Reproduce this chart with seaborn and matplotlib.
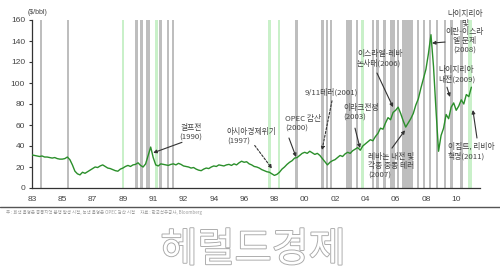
import numpy as np
import pandas as pd
import matplotlib
matplotlib.use("Agg")
import matplotlib.pyplot as plt
import matplotlib.patheffects as pe
from matplotlib.lines import Line2D
import seaborn as sns

# ---------------- data ----------------
start_year = 1983
points_per_year = 6
price = [
    31.5, 31, 30.5, 30, 30.5, 29.5,      # 1983
    29.5, 29, 28.5, 29, 28, 27.5,        # 1984
    27.5, 28, 29.5, 27, 22, 16,          # 1985
    13.5, 12.5, 15, 14, 15.5, 17,        # 1986
    18.5, 20, 19.5, 21, 22, 20.5,        # 1987
    19, 18.5, 17.5, 16.5, 16, 18,        # 1988
    19, 20.5, 21.5, 20.5, 22, 22.5,      # 1989
    24, 21.5, 20, 23, 31, 39,            # 1990
    29, 22, 21, 23, 22.5, 22,            # 1991
    21.5, 22.5, 23, 22, 23.5, 22.5,      # 1992
    21, 20.5, 20, 19, 19.5, 18,          # 1993
    17, 16.5, 18, 19, 18.5, 20,          # 1994
    21, 20.5, 22, 21.5, 21, 22,          # 1995
    22.5, 21.5, 23, 22, 24, 25.5,        # 1996
    24.5, 25, 23, 22, 20.5, 20,          # 1997
    19, 17.5, 16.5, 15.5, 15, 13.5,      # 1998
    12, 13, 15, 18, 20, 22.5,            # 1999
    24.5, 26, 28.5, 29, 31, 33,          # 2000
    34, 33, 35, 33.5, 32, 33,            # 2001
    31, 28, 25, 22, 24.5, 26,            # 2002
    27, 29, 31, 30, 32.5, 34,            # 2003
    33, 35.5, 37, 38.5, 36, 40,          # 2004
    42, 44, 46, 45, 49, 52,              # 2005
    57, 56, 62, 67, 65, 72,              # 2006
    74, 77, 71, 64, 58, 62,              # 2007
    66, 71, 79, 85, 95, 104,             # 2008
    113, 128, 146, 116, 74, 35,          # 2009
    50, 57, 70, 66, 77, 81,              # 2010
    74, 78, 84, 80, 89, 87,              # 2011
    96,                                  # 2012
]

tick_pos = [1983, 1985, 1987, 1989, 1991, 1993, 1995, 1997, 1999, 2001,
            2003, 2005, 2007, 2009, 2011]
tick_labels = ["83", "85", "87", "89", "91", "92", "94", "96", "98", "00",
               "02", "04", "06", "08", "10"]
inner_ticks = [1989, 1995, 2001, 2007]
y_ticks = [0, 20, 40, 60, 80, 100, 120, 140, 160]

gray_start = [1983.52, 1985.30, 1989.82, 1990.15, 1990.55, 1991.40, 1991.90,
              1992.23, 2000.38, 2002.10, 2002.40, 2002.66, 2003.75, 2004.38,
              2005.43, 2005.72, 2006.19, 2006.63, 2007.08, 2007.42, 2008.40,
              2008.79, 2009.19, 2009.65, 2010.18, 2010.61, 2011.27]
gray_end = [1983.68, 1985.46, 1989.98, 1990.31, 1990.80, 1991.56, 1992.06,
            1992.39, 2000.54, 2002.26, 2002.55, 2002.82, 2004.12, 2004.52,
            2005.59, 2005.88, 2006.35, 2006.96, 2007.24, 2008.15, 2008.56,
            2008.95, 2009.35, 2009.81, 2010.34, 2010.77, 2011.43]
green_start = [1988.92, 1991.14, 1998.60, 1999.22, 2004.74, 2011.80]
green_end = [1989.08, 1991.30, 1998.76, 1999.38, 2004.90, 2012.05]

# (text, text_x, text_y, tip_x, tip_y, tail_x, tail_y, ha, dashed)
events = [
    ("걸프전\n(1990)", 1993.5, 52.4, 1991.0, 33.5, 1992.9, 43.5, "center", False),
    ("아시아경제위기\n(1997)", 1995.87, 48.6, 1998.84, 18.5, 1997.7, 40.5, "left", True),
    ("OPEC 감산\n(2000)", 1999.7, 61.4, 2000.43, 29.5, 1999.96, 47.6, "left", False),
    ("9/11테러(2001)", 2001.02, 91.4, 2002.14, 36, 2002.8, 83, "left", True),
    ("이라크전쟁\n(2003)", 2003.53, 71.4, 2004.65, 38, 2004.32, 57, "left", False),
    ("이스라엘-레바\n논사태(2006)", 2004.45, 122.9, 2006.83, 77, 2005.77, 109.5, "left", False),
    ("레바논 내전 및\n각종 중동 테러\n(2007)", 2005.18, 20.5, 2007.62, 55, 2006.76, 38, "left", False),
    ("나이지리아\n및\n이란-이스라\n엘 문제\n(2008)", 2011.58, 148.6, 2009.4, 138, 2010.26, 139, "center", False),
    ("나이지리아\n내전(2009)", 2009.8, 107.6, 2010.59, 86.7, 2010.39, 96, "left", False),
    ("이집트, 리비아\n혁명(2011)", 2010.46, 34.8, 2012.1, 74.3, 2012.37, 47.6, "left", False),
]

unit_label = "($/bbl)"
footnote = "주 : 회색 음영은 중동지역 분쟁 발생 시점, 녹색 음영은 OPEC 감산 시점     자료 : 한국석유공사, Bloomberg"
watermark = "헤럴드경제"

# ---------------- style ----------------
sns.set_theme(style="white")
plt.rcParams["font.family"] = ["Noto Sans CJK KR", "DejaVu Sans"]

df = pd.DataFrame({
    "year": start_year + np.arange(len(price)) / points_per_year,
    "price": price,
})

fig = plt.figure(figsize=(5.0, 2.79), dpi=100)
ax = fig.add_axes([32 / 500, 1 - 188 / 279, 448 / 500, 168 / 279])

for s, e in zip(gray_start, gray_end):
    ax.axvspan(s, e, color="#bebebe", lw=0, zorder=1)
for s, e in zip(green_start, green_end):
    ax.axvspan(s, e, color="#c9f0c9", lw=0, zorder=1)

sns.lineplot(data=df, x="year", y="price", ax=ax, color="#2b8f2b",
             linewidth=1.0, zorder=3)

ax.set_xlim(1983.0, 2012.57)
ax.set_ylim(0, 160)
ax.set_xlabel("")
ax.set_ylabel("")

ax.set_xticks(tick_pos)
ax.set_xticklabels(tick_labels, family=["Liberation Sans", "DejaVu Sans"],
                   fontsize=6, color="#444444")
ax.set_xticks(inner_ticks, minor=True)
ax.tick_params(axis="x", which="major", length=0, pad=6)
ax.tick_params(axis="x", which="minor", direction="in", length=3,
               width=0.8, color="#333333", bottom=True)
ax.set_yticks(y_ticks)
ax.set_yticklabels([str(v) for v in y_ticks],
                   family=["Liberation Sans", "DejaVu Sans"],
                   fontsize=6, color="#444444")
ax.tick_params(axis="y", which="major", direction="out", length=2,
               width=0.8, color="#333333", left=True, pad=3)

for side in ["top", "right"]:
    ax.spines[side].set_visible(False)
for side in ["left", "bottom"]:
    ax.spines[side].set_color("#333333")
    ax.spines[side].set_linewidth(0.9)
ax.patch.set_alpha(0)

ax.text(-0.009, 1.042, unit_label, transform=ax.transAxes, fontsize=5,
        color="#444444", ha="left", va="center",
        family=["Liberation Sans", "DejaVu Sans"])

for txt, tx, ty, px, py, lx, ly, ha, dashed in events:
    ax.text(tx, ty, txt, fontsize=5.6, color="#444444", ha=ha, va="center",
            linespacing=1.2, zorder=5)
    ax.annotate("", xy=(px, py), xytext=(lx, ly),
                arrowprops=dict(arrowstyle="-|>", color="#333333",
                                lw=0.8, mutation_scale=5,
                                linestyle=(0, (2, 1.5)) if dashed else "-",
                                shrinkA=0, shrinkB=0),
                zorder=5)

fig.add_artist(Line2D([0, 1], [1 - 207 / 279, 1 - 207 / 279],
                      transform=fig.transFigure, color="#555555", lw=1.0))
fig.text(0.012, 1 - 212 / 279, footnote, fontsize=3.2, color="#9a9a9a",
         ha="left", va="center")

fig.text(253 / 500, 1 - 250 / 279, watermark, fontsize=29, color="white",
         ha="center", va="center",
         path_effects=[pe.withStroke(linewidth=1.3, foreground="#a8a8a8")])

fig.savefig("out.png", dpi=100)
